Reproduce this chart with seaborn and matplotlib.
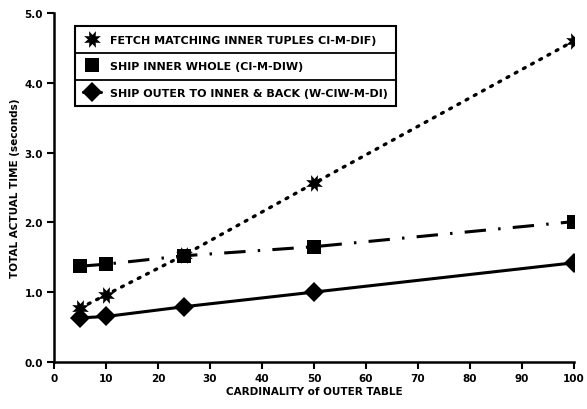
import matplotlib
matplotlib.use("Agg")
import matplotlib.pyplot as plt
from matplotlib.lines import Line2D
import seaborn as sns
import pandas as pd

# Cardinality of the outer table
cardinality = [5, 10, 25, 50, 100]

# Total actual time (seconds) per strategy
fetch_matching = [0.77, 0.96, 1.53, 2.56, 4.60]
ship_inner_whole = [1.37, 1.40, 1.52, 1.65, 2.01]
ship_outer_back = [0.63, 0.65, 0.79, 1.00, 1.42]

labels = [
    "FETCH MATCHING INNER TUPLES CI-M-DIF)",
    "SHIP INNER WHOLE (CI-M-DIW)",
    "SHIP OUTER TO INNER & BACK (W-CIW-M-DI)",
]

x_ticks = [0, 10, 20, 30, 40, 50, 60, 70, 80, 90, 100]
y_ticks = [0.0, 1.0, 2.0, 3.0, 4.0, 5.0]

sns.set_theme(style="white")
plt.rcParams["font.family"] = ["Liberation Sans Narrow", "DejaVu Sans"]
plt.rcParams["font.weight"] = "bold"
plt.rcParams["text.color"] = "black"
plt.rcParams["axes.labelcolor"] = "black"
plt.rcParams["xtick.color"] = "black"
plt.rcParams["ytick.color"] = "black"

df = pd.DataFrame({
    "card": cardinality,
    "fetch": fetch_matching,
    "whole": ship_inner_whole,
    "back": ship_outer_back,
})

fig = plt.figure(figsize=(5.87, 4.10), dpi=100)
ax = fig.add_axes([0.092, 0.115, 0.886, 0.851])

# Spiky starburst marker for the fetch strategy
star = (8, 1, 22.5)
sns.lineplot(data=df, x="card", y="fetch", ax=ax, color="black",
             linestyle=(0, (0.6, 2.2)), linewidth=2.4, dash_capstyle="round",
             marker=star, markersize=13, markeredgewidth=0,
             markeredgecolor="black")
sns.lineplot(data=df, x="card", y="whole", ax=ax, color="black",
             linestyle=(0, (7, 4, 0.8, 4)), linewidth=2.2,
             marker="s", markersize=10, markeredgewidth=0,
             markeredgecolor="black")
sns.lineplot(data=df, x="card", y="back", ax=ax, color="black",
             linestyle="-", linewidth=2.2,
             marker="D", markersize=10, markeredgewidth=0,
             markeredgecolor="black")

ax.set_xlim(0, 100)
ax.set_ylim(0, 5.0)
ax.set_xticks(x_ticks)
ax.set_xticklabels([str(t) for t in x_ticks], fontsize=7.5, fontweight="bold")
ax.set_yticks(y_ticks)
ax.set_yticklabels([f"{t:.1f}" for t in y_ticks], fontsize=7.5, fontweight="bold")

for side in ("top", "right"):
    ax.spines[side].set_visible(False)
for side in ("left", "bottom"):
    ax.spines[side].set_color("black")
    ax.spines[side].set_linewidth(1.8)
ax.tick_params(axis="both", direction="out", length=5, width=1.5,
               color="black", pad=3, labelcolor="black")
ax.tick_params(axis="both", which="both", bottom=True, left=True)

ax.set_xlabel("CARDINALITY of OUTER TABLE", fontsize=7.5, fontweight="bold",
              labelpad=2, color="black")
ax.set_ylabel("TOTAL ACTUAL TIME (seconds)", fontsize=7.5, fontweight="bold",
              labelpad=3, color="black")

handles = [
    Line2D([], [], color="black", linestyle="none", marker=star,
           markersize=13, markeredgewidth=0),
    Line2D([], [], color="black", linestyle="none", marker="s",
           markersize=10, markeredgewidth=0),
    Line2D([], [], color="black", linestyle="-", linewidth=2.2, marker="D",
           markersize=10, markeredgewidth=0),
]
leg = ax.legend(handles, labels, loc="upper left", bbox_to_anchor=(0.04, 0.962),
                frameon=True, fancybox=False, edgecolor="black",
                prop={"size": 8, "weight": "bold"},
                handlelength=1.6, handletextpad=0.8, borderpad=0.75,
                labelspacing=1.5, borderaxespad=0)
leg.get_frame().set_linewidth(1.5)
leg.get_frame().set_alpha(1)
for t in leg.get_texts():
    t.set_color("black")

# Row separators inside the legend box
fig.canvas.draw()
bb = leg.get_frame().get_window_extent().transformed(ax.transAxes.inverted())
for k in (1, 2):
    yy = bb.y0 + bb.height * k / 3
    ax.plot([bb.x0, bb.x1], [yy, yy], transform=ax.transAxes, color="black",
            linewidth=1.3, clip_on=False, zorder=10)

fig.savefig("out.png", dpi=100)
